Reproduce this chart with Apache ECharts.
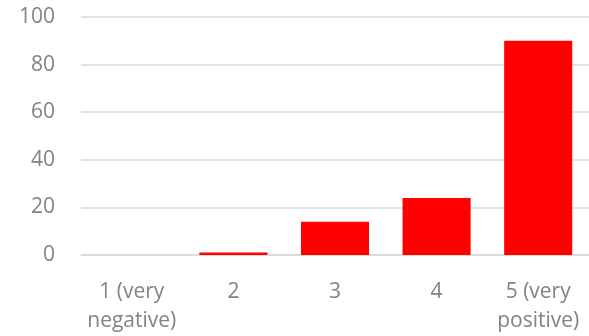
<!DOCTYPE html>
<html>
<head>
<meta charset="utf-8">
<script src="https://cdn.jsdelivr.net/npm/echarts@6/dist/echarts.min.js"></script>
<style>
	html,body{margin:0;padding:0;background:#fff;}
	#chart{width:589px;height:336px;}
</style>
</head>
<body>
<div id="chart"></div>
<script>
	// 数据
	var categories = ['1 (very\nnegative)', '2', '3', '4', '5 (very\npositive)'];
	var values = [0, 1, 14, 24, 90];
	var yTicks = [0, 20, 40, 60, 80, 100];

	var chart = echarts.init(document.getElementById('chart'));
	var option = {
		animation: false,
		grid: {
			left: 81,
			right: 0,
			top: 17,
			bottom: 81
		},
		xAxis: {
			type: 'category',
			data: categories,
			axisTick: { show: false },
			axisLine: {
				lineStyle: { color: '#d9d9d9', width: 1.5 }
			},
			axisLabel: {
				color: '#838383',
				fontFamily: 'Open Sans',
				fontSize: 21,
				lineHeight: 29,
				margin: 23,
				interval: 0
			}
		},
		yAxis: {
			type: 'value',
			min: yTicks[0],
			max: yTicks[yTicks.length - 1],
			interval: yTicks[1] - yTicks[0],
			axisLine: { show: false },
			axisTick: { show: false },
			axisLabel: {
				color: '#838383',
				fontFamily: 'Open Sans',
				fontSize: 21,
				margin: 26
			},
			splitLine: {
				lineStyle: { color: '#d9d9d9', width: 1.5 }
			}
		},
		series: [
			{
				type: 'bar',
				data: values,
				barWidth: '67%',
				itemStyle: { color: '#ff0000' }
			}
		]
	};
	chart.setOption(option);
</script>
</body>
</html>
